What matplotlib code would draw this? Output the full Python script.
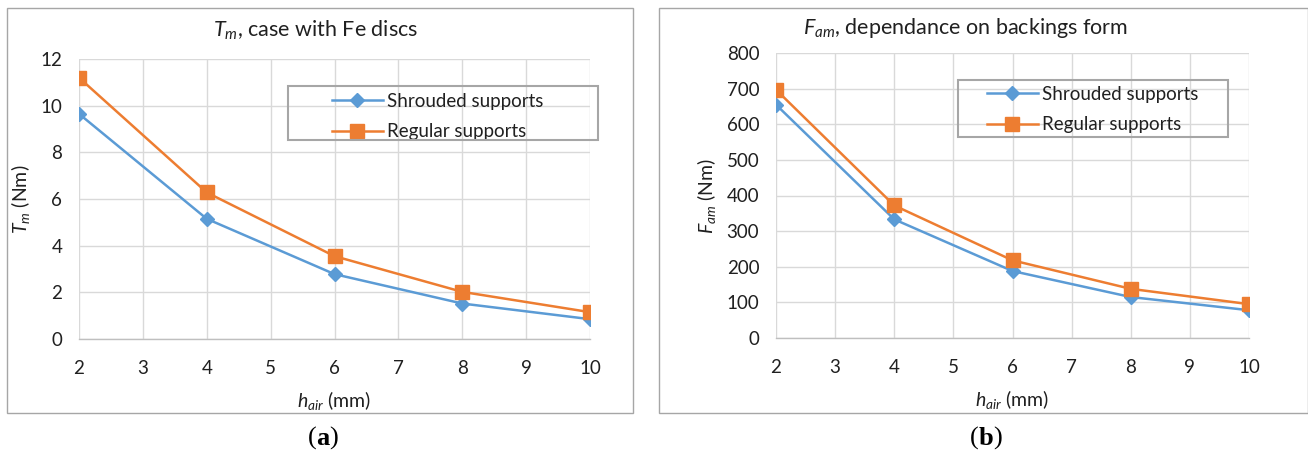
import matplotlib
matplotlib.use("Agg")
import matplotlib.pyplot as plt
from matplotlib.patches import Rectangle

plt.rcParams['font.family'] = ['Lato', 'DejaVu Sans']
plt.rcParams['mathtext.fontset'] = 'custom'
plt.rcParams['mathtext.rm'] = 'Lato'
plt.rcParams['mathtext.it'] = 'Lato:italic'
plt.rcParams['mathtext.bf'] = 'Lato:bold'

h_air = [2, 4, 6, 8, 10]
tm_shrouded = [9.65, 5.15, 2.78, 1.52, 0.85]
tm_regular = [11.2, 6.28, 3.55, 2.02, 1.15]
fam_shrouded = [655, 333, 188, 115, 78]
fam_regular = [697, 372, 218, 138, 95]

BLUE = '#5B9BD5'
ORANGE = '#ED7D31'
GRID = '#D9D9D9'
TXT = '#202020'

W, H = 1308, 453
fig = plt.figure(figsize=(W / 100, H / 100), dpi=100)


def fx(px):
    return px / W


def fy(py):
    return 1 - py / H


def frame(x0, y0, x1, y1, lw=1.0):
    fig.patches.append(Rectangle((fx(x0), fy(y1)), (x1 - x0) / W, (y1 - y0) / H,
                                 transform=fig.transFigure, fill=False,
                                 edgecolor='#A6A6A6', linewidth=lw, zorder=5))


# panel frames
frame(7, 8, 633, 413)
frame(659, 8, 1307.5, 413)


def setup(ax, ymax, ystep, ylabel, leg_handle_x, leg_center_y, box):
    ax.set_xlim(2, 10)
    ax.set_ylim(0, ymax)
    ax.set_xticks(range(2, 11))
    ax.set_yticks(range(0, ymax + 1, ystep))
    ax.grid(True, color=GRID, linewidth=1.0)
    ax.set_axisbelow(True)
    for s in ['top', 'right', 'left']:
        ax.spines[s].set_visible(False)
    ax.spines['bottom'].set_color('#BFBFBF')
    ax.spines['bottom'].set_linewidth(1.0)
    ax.tick_params(length=0, labelsize=13.5, colors=TXT)
    ax.tick_params(axis='y', pad=12)
    ax.tick_params(axis='x', pad=15)
    ax.set_xlabel(r'$h_{air}$ (mm)', fontsize=14, color=TXT, labelpad=9)
    ax.set_ylabel(ylabel, fontsize=14, color=TXT, labelpad=6)
    leg = ax.legend(loc='center left', bbox_to_anchor=(fx(leg_handle_x), fy(leg_center_y)),
                    bbox_transform=fig.transFigure, fontsize=13.5,
                    frameon=False, handlelength=2.7, borderpad=0, labelspacing=0.7,
                    handletextpad=0.25, borderaxespad=0)
    for t in leg.get_texts():
        t.set_color(TXT)
    frame(*box, lw=1.5)


ax1 = fig.add_axes([fx(79), fy(339), (590 - 79) / W, (339 - 59) / H])
ax1.plot(h_air, tm_shrouded, color=BLUE, lw=1.8, marker='D', ms=6.8, label='Shrouded supports')
ax1.plot(h_air, tm_regular, color=ORANGE, lw=1.8, marker='s', ms=10.5, label='Regular supports')
setup(ax1, 12, 2, r'$T_m$ (Nm)', 332, 116.5, (288, 86, 598, 140))

ax2 = fig.add_axes([fx(776), fy(338), (1249 - 776) / W, (338 - 53) / H])
ax2.plot(h_air, fam_shrouded, color=BLUE, lw=1.8, marker='D', ms=6.8, label='Shrouded supports')
ax2.plot(h_air, fam_regular, color=ORANGE, lw=1.8, marker='s', ms=10.5, label='Regular supports')
setup(ax2, 800, 100, r'$F_{am}$ (Nm)', 987, 109.5, (958, 80, 1228, 137))

fig.text(fx(316), fy(30), r'$T_m$, case with Fe discs', ha='center', va='center',
         fontsize=15.5, color=TXT)
fig.text(fx(966), fy(28), r'$F_{am}$, dependance on backings form', ha='center', va='center',
         fontsize=15.5, color=TXT)

# captions "(a)" and "(b)" with bold letter
renderer = fig.canvas.get_renderer()
for cx, letter in [(323, 'a'), (986, 'b')]:
    mid = fig.text(fx(cx), fy(445), letter, ha='center', va='baseline', fontsize=19,
                   family='Liberation Serif', fontweight='bold', color='black')
    bb = mid.get_window_extent(renderer)
    fig.text(bb.x0 / W, fy(445), '(', ha='right', va='baseline', fontsize=19,
             family='Liberation Serif', color='black')
    fig.text(bb.x1 / W, fy(445), ')', ha='left', va='baseline', fontsize=19,
             family='Liberation Serif', color='black')

fig.savefig('out.png', dpi=100)
